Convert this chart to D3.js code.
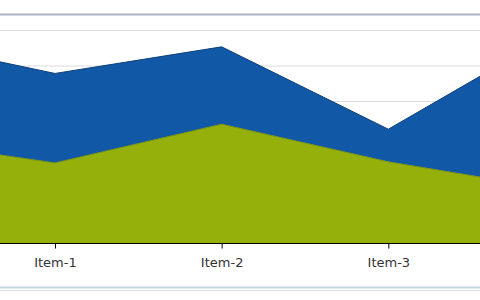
<!DOCTYPE html>
<html>
<head>
<meta charset="utf-8">
<script src="https://cdn.jsdelivr.net/npm/d3@7"></script>
<style>
  body { margin: 0; background: #fff; }
  svg { display: block; }
</style>
</head>
<body>
<div id="chart"></div>
<script>
// chart data
const items = ["Item-0", "Item-1", "Item-2", "Item-3", "Item-4"];
const greenValues = [29.5, 22.7, 33.6, 23, 15.2];
const blueValues = [28.3, 25.2, 21.8, 9.2, 44.1];
const yTicks = [0, 10, 20, 30, 40, 50, 60];

const width = 480, height = 300;

const svg = d3.select("#chart").append("svg")
    .attr("width", width)
    .attr("height", height);

// plot is a cropped view: first and last items fall outside the window
const x = d3.scalePoint().domain(items).range([-111.7, 555]);
const y = d3.scaleLinear().domain([0, 60]).range([243.5, 30.5]);

const rows = items.map((d, i) => ({ item: d, green: greenValues[i], blue: blueValues[i] }));
const stacked = d3.stack().keys(["green", "blue"])(rows);
const colors = { green: "#95b00a", blue: "#1158a6" };
const strokes = { green: "#7c9408", blue: "#0d3f78" };

// grid lines
svg.append("g")
  .selectAll("line")
  .data(yTicks)
  .join("line")
    .attr("x1", 0)
    .attr("x2", width)
    .attr("y1", d => y(d))
    .attr("y2", d => y(d))
    .attr("stroke", "#dcdcdc")
    .attr("stroke-width", 1);

const area = d3.area()
    .x(d => x(d.data.item))
    .y0(d => y(d[0]))
    .y1(d => y(d[1]));

const line = d3.line()
    .x(d => x(d.data.item))
    .y(d => y(d[1]));

svg.append("g")
  .selectAll("path")
  .data(stacked)
  .join("path")
    .attr("d", area)
    .attr("fill", d => colors[d.key]);

svg.append("g")
  .selectAll("path")
  .data(stacked)
  .join("path")
    .attr("d", line)
    .attr("fill", "none")
    .attr("stroke", d => strokes[d.key])
    .attr("stroke-width", 1);

// x axis, only the items inside the window get a label
const visible = items.filter(d => x(d) >= 0 && x(d) <= width);
const xAxis = svg.append("g")
    .attr("transform", `translate(0, ${y(0)})`)
    .call(d3.axisBottom(x).tickValues(visible).tickSize(5).tickPadding(9));
xAxis.select(".domain").remove();
xAxis.append("line")
    .attr("x1", 0).attr("x2", width)
    .attr("stroke", "#000");
xAxis.selectAll(".tick line").attr("stroke", "#000");
xAxis.selectAll("text")
    .attr("font-family", "DejaVu Sans, Verdana, sans-serif")
    .attr("font-size", "13px")
    .attr("fill", "#333");

// frame lines
svg.append("line")
    .attr("x1", 0).attr("x2", width)
    .attr("y1", 14.5).attr("y2", 14.5)
    .attr("stroke", "#aab2c4").attr("stroke-width", 2);
svg.append("line")
    .attr("x1", 0).attr("x2", width)
    .attr("y1", 287.5).attr("y2", 287.5)
    .attr("stroke", "#c6d6e1").attr("stroke-width", 2);
svg.append("line")
    .attr("x1", 0).attr("x2", width)
    .attr("y1", 290.5).attr("y2", 290.5)
    .attr("stroke", "#dadada").attr("stroke-width", 1);
</script>
</body>
</html>
